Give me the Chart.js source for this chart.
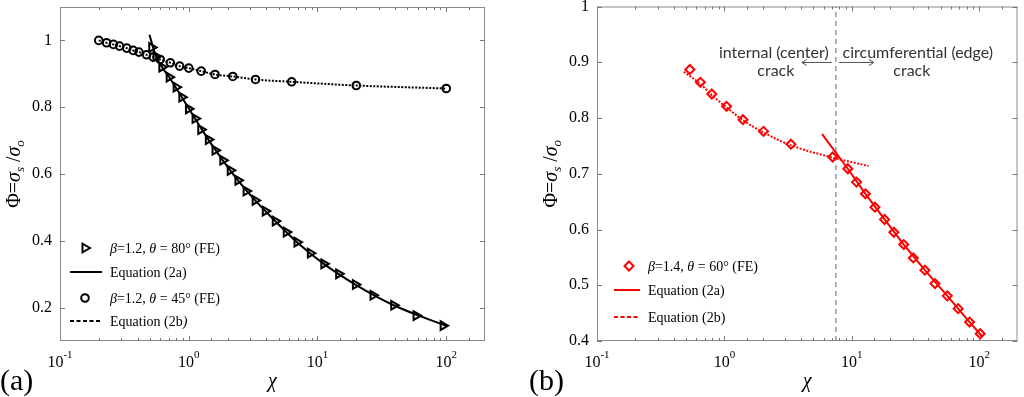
<!DOCTYPE html>
<html>
<head>
<meta charset="utf-8">
<script src="https://cdn.jsdelivr.net/npm/chart.js@4.4.1/dist/chart.umd.min.js"></script>
<style>
  html, body { margin: 0; padding: 0; background: #fff; }
  #wrap { position: relative; width: 1024px; height: 397px; overflow: hidden; }
  canvas { position: absolute; top: 0; }
</style>
</head>
<body>
<div id="wrap">
  <canvas id="chartA" width="512" height="397" style="left:0"></canvas>
  <canvas id="chartB" width="512" height="397" style="left:512px"></canvas>
</div>
<script>
// ---- panel (a) ----
const triX = [0.516, 0.557, 0.618, 0.705, 0.798, 0.884, 0.995, 1.12, 1.24, 1.42, 1.60, 1.84, 2.10, 2.41,
              2.79, 3.28, 3.93, 4.70, 5.72, 6.93, 8.8, 11.2, 14.6, 19.7, 27.0, 39.1, 58.3, 94.6];
const triY = [0.979, 0.952, 0.920, 0.890, 0.860, 0.830, 0.795, 0.766, 0.733, 0.703, 0.671, 0.641, 0.611, 0.581,
              0.549, 0.521, 0.489, 0.459, 0.426, 0.396, 0.363, 0.331, 0.301, 0.269, 0.237, 0.207, 0.176, 0.146];
const circX = [0.2, 0.23, 0.26, 0.29, 0.33, 0.37, 0.41, 0.47, 0.53, 0.6, 0.72, 0.85, 1.0, 1.25, 1.6, 2.2, 3.3, 6.3, 20, 100];
const circY = [1.0, 0.993, 0.988, 0.983, 0.977, 0.970, 0.965, 0.957, 0.950, 0.943, 0.933, 0.923, 0.917, 0.908,
               0.898, 0.892, 0.883, 0.876, 0.865, 0.856];
const eqA_X = [0.495, 0.557, 0.705, 0.884, 1.12, 1.42, 1.84, 2.41, 3.28, 4.70, 6.93, 11.2, 19.7, 39.1, 100];
const eqA_Y = [1.017, 0.952, 0.890, 0.830, 0.766, 0.703, 0.641, 0.581, 0.521, 0.459, 0.396, 0.331, 0.269, 0.207, 0.145];
const yTicksA = [0.2, 0.4, 0.6, 0.8, 1];

// ---- panel (b) ----
const diaX = [0.536, 0.648, 0.797, 1.04, 1.40, 2.03, 3.33, 7.08, 9.31, 10.9, 12.8, 15.2, 18.1, 21.4,
              25.6, 30.4, 37.5, 45.0, 56.2, 68.4, 84.1, 102];
const diaY = [0.887, 0.864, 0.843, 0.821, 0.797, 0.776, 0.753, 0.730, 0.709, 0.685, 0.664, 0.640, 0.618, 0.595,
              0.573, 0.549, 0.527, 0.503, 0.481, 0.458, 0.434, 0.413];
const eqB2b_X = [0.48, 0.648, 0.797, 1.04, 1.40, 2.03, 3.33, 7.08, 13.5];
const eqB2b_Y = [0.883, 0.861, 0.841, 0.819, 0.796, 0.774, 0.751, 0.729, 0.714];
const eqB2a_X = [5.85, 9.31, 12.8, 18.1, 25.6, 37.5, 56.2, 84.1, 105];
const eqB2a_Y = [0.771, 0.709, 0.664, 0.618, 0.573, 0.527, 0.481, 0.434, 0.409];
const dividerX = 7.5;
const yTicksB = [0.4, 0.5, 0.6, 0.7, 0.8, 0.9, 1];

const xTickValues = [0.1, 1, 10, 100];
const xTickExps = ['-1', '0', '1', '2'];

const SERIF = '"Liberation Serif", "Times New Roman", serif';
const pts = (xs, ys) => xs.map((x, i) => ({ x: x, y: ys[i] }));
const fnt = (size, italic) => (italic ? 'italic ' : '') + size + 'px ' + SERIF;

// draw a run of text pieces: [text, italic, size, dy]
function drawRich(ctx, parts, x, y, align) {
  let w = 0;
  parts.forEach(p => { ctx.font = fnt(p[2], p[1]); w += ctx.measureText(p[0]).width; });
  let cx = align === 'center' ? x - w / 2 : x;
  ctx.textAlign = 'left';
  ctx.textBaseline = 'alphabetic';
  parts.forEach(p => {
    ctx.font = fnt(p[2], p[1]);
    ctx.fillText(p[0], cx, y + (p[3] || 0));
    cx += ctx.measureText(p[0]).width;
  });
}

function drawMarker(ctx, kind, x, y, color) {
  ctx.save();
  ctx.strokeStyle = color;
  ctx.lineWidth = 2;
  ctx.beginPath();
  if (kind === 'triangle') {
    const r = 5;
    ctx.moveTo(x + r, y);
    ctx.lineTo(x - r / 2, y - r * 0.866);
    ctx.lineTo(x - r / 2, y + r * 0.866);
    ctx.closePath();
  } else if (kind === 'circle') {
    ctx.arc(x, y, 3.8, 0, Math.PI * 2);
  } else {
    const r = 4.5;
    ctx.moveTo(x, y - r); ctx.lineTo(x + r, y); ctx.lineTo(x, y + r); ctx.lineTo(x - r, y);
    ctx.closePath();
  }
  ctx.stroke();
  ctx.restore();
}

function arrow(ctx, x0, x1, y) {
  const d = x1 > x0 ? 1 : -1;
  ctx.beginPath();
  ctx.moveTo(x0, y); ctx.lineTo(x1, y);
  ctx.moveTo(x1 - d * 5, y - 3); ctx.lineTo(x1, y); ctx.lineTo(x1 - d * 5, y + 3);
  ctx.stroke();
}

const deco = {
  id: 'deco',
  afterDraw(chart, args, o) {
    const ctx = chart.ctx;
    const a = chart.chartArea;
    const xs = chart.scales.x, ys = chart.scales.y;
    ctx.save();
    // frame
    ctx.strokeStyle = '#8a8a8a';
    ctx.lineWidth = 1;
    ctx.strokeRect(a.left + 0.5, a.top + 0.5, a.right - a.left - 1, a.bottom - a.top - 1);
    // inward ticks
    ctx.strokeStyle = '#777';
    ctx.beginPath();
    xs.ticks.forEach(t => {
      const lg = Math.log10(t.value);
      const major = Math.abs(lg - Math.round(lg)) < 1e-6;
      const len = major ? 5 : 3;
      const px = Math.round(xs.getPixelForValue(t.value)) + 0.5;
      if (px <= a.left + 1 || px >= a.right - 1) return;
      ctx.moveTo(px, a.bottom); ctx.lineTo(px, a.bottom - len);
      ctx.moveTo(px, a.top); ctx.lineTo(px, a.top + len);
    });
    ys.ticks.forEach(t => {
      const py = Math.round(ys.getPixelForValue(t.value)) + 0.5;
      ctx.moveTo(a.left, py); ctx.lineTo(a.left + 5, py);
      ctx.moveTo(a.right, py); ctx.lineTo(a.right - 5, py);
    });
    ctx.stroke();
    // x tick labels 10^n
    ctx.fillStyle = '#000';
    xTickValues.forEach((v, i) => {
      const px = xs.getPixelForValue(v);
      drawRich(ctx, [['10', false, 16, 0], [xTickExps[i], false, 11, -9]], px, a.bottom + 26, 'center');
    });
    // y title
    ctx.save();
    ctx.translate(o.ytitleX, (a.top + a.bottom) / 2);
    ctx.rotate(-Math.PI / 2);
    drawRich(ctx, [['Φ=', false, 20, 0], ['σ', true, 20, 0], ['s', true, 13, 4],
                   [' /', false, 20, 0], ['σ', true, 20, 0], ['o', true, 13, 4]], 0, 7, 'center');
    ctx.restore();
    // panel label
    drawRich(ctx, [[o.panel, false, 30, 0]], o.panelX, 390, 'left');
    // legend
    const L = o.legendX;
    o.legend.forEach(item => {
      const y = a.bottom - item.dy;
      if (item.marker) drawMarker(ctx, item.marker, a.left + L.marker, y, o.color);
      if (item.line) {
        ctx.save();
        ctx.strokeStyle = o.color;
        ctx.lineWidth = 2;
        if (item.line === 'dash') ctx.setLineDash([4, 2.5]);
        ctx.beginPath();
        ctx.moveTo(a.left + L.l0, y); ctx.lineTo(a.left + L.l1, y);
        ctx.stroke();
        ctx.restore();
      }
      ctx.fillStyle = '#000';
      drawRich(ctx, item.text, a.left + L.text, y + 5, 'left');
    });
    // crack annotation
    if (o.annot) {
      const dx = xs.getPixelForValue(dividerX);
      ctx.fillStyle = '#333';
      ctx.strokeStyle = '#555';
      ctx.lineWidth = 1;
      ctx.font = '16px Lato, "Open Sans", sans-serif';
      ctx.textAlign = 'center';
      ctx.textBaseline = 'middle';
      ctx.fillText('internal (center)', dx - 62, a.top + 46);
      ctx.fillText('crack', dx - 60, a.top + 64);
      ctx.fillText('circumferential (edge)', dx + 82, a.top + 46);
      ctx.fillText('crack', dx + 76, a.top + 64);
      arrow(ctx, dx - 4, dx - 34, a.top + 56);
      arrow(ctx, dx + 3, dx + 38, a.top + 56);
    }
    ctx.restore();
  }
};

const fe = (b, t) => [['β', true, 14], ['=' + b + ', ', false, 14], ['θ', true, 14], [' = ' + t + '° (FE)', false, 14]];

function baseScales(ymin, ymax, yTicks, yWidth) {
  return {
    x: {
      type: 'logarithmic', min: 0.1, max: 200,
      grid: { display: false, drawTicks: false },
      border: { display: false },
      ticks: { display: false, autoSkip: false },
      title: { display: true, text: 'χ', color: '#000', font: { family: SERIF, size: 20, style: 'italic' },
               padding: { top: 0, bottom: 3 } },
      afterFit: s => { s.height = 56; s.paddingLeft = 0; s.paddingRight = 0; }
    },
    y: {
      type: 'linear', min: ymin, max: ymax,
      grid: { display: false, drawTicks: false },
      border: { display: false },
      ticks: { color: '#000', font: { family: SERIF, size: 16 }, padding: 8, callback: v => String(v) },
      afterBuildTicks: s => { s.ticks = yTicks.map(v => ({ value: v })); },
      afterFit: s => { s.width = yWidth; s.paddingTop = 0; s.paddingBottom = 0; }
    }
  };
}

new Chart(document.getElementById('chartA'), {
  type: 'scatter',
  data: {
    datasets: [
      { label: 'β=1.2, θ = 80° (FE)', data: pts(triX, triY), pointStyle: 'triangle', rotation: 90,
        pointRadius: 5, pointBorderWidth: 2, pointBorderColor: '#000', pointBackgroundColor: 'rgba(0,0,0,0)' },
      { label: 'β=1.2, θ = 45° (FE)', data: pts(circX, circY), pointStyle: 'circle',
        pointRadius: 3.8, pointBorderWidth: 2, pointBorderColor: '#000', pointBackgroundColor: 'rgba(0,0,0,0)' },
      { label: 'Equation (2a)', data: pts(eqA_X, eqA_Y), showLine: true, pointRadius: 0,
        borderColor: '#000', borderWidth: 2, cubicInterpolationMode: 'monotone' },
      { label: 'Equation (2b)', data: pts(circX, circY), showLine: true, pointRadius: 0,
        borderColor: '#000', borderWidth: 2, borderDash: [2, 1.5], cubicInterpolationMode: 'monotone' }
    ]
  },
  options: {
    responsive: false,
    animation: false,
    layout: { padding: { top: 6, right: 27, left: 0, bottom: 0 } },
    plugins: {
      legend: { display: false },
      tooltip: { enabled: false },
      deco: {
        panel: '(a)', panelX: 0, ytitleX: 13, color: '#000',
        legendX: { marker: 25, l0: 10, l1: 42, text: 50 },
        legend: [
          { dy: 93, marker: 'triangle', text: fe('1.2', '80') },
          { dy: 69, line: 'solid', text: [['Equation (2a)', false, 14]] },
          { dy: 43, marker: 'circle', text: fe('1.2', '45') },
          { dy: 20, line: 'dash', text: [['Equation (2b', false, 14], [')', true, 14]] }
        ]
      }
    },
    scales: baseScales(0.1, 1.1, yTicksA, 60)
  },
  plugins: [deco]
});

new Chart(document.getElementById('chartB'), {
  type: 'scatter',
  data: {
    datasets: [
      { label: 'β=1.4, θ = 60° (FE)', data: pts(diaX, diaY), pointStyle: 'rectRot',
        pointRadius: 4.5, pointBorderWidth: 2, pointBorderColor: '#ff0000', pointBackgroundColor: 'rgba(0,0,0,0)' },
      { label: 'Equation (2a)', data: pts(eqB2a_X, eqB2a_Y), showLine: true, pointRadius: 0,
        borderColor: '#ff0000', borderWidth: 2 },
      { label: 'Equation (2b)', data: pts(eqB2b_X, eqB2b_Y), showLine: true, pointRadius: 0,
        borderColor: '#ff0000', borderWidth: 2, borderDash: [2, 1.5], cubicInterpolationMode: 'monotone' },
      { label: 'divider', data: [{ x: dividerX, y: 0.4 }, { x: dividerX, y: 1 }], showLine: true, pointRadius: 0,
        borderColor: '#808080', borderWidth: 1.2, borderDash: [5, 4] }
    ]
  },
  options: {
    responsive: false,
    animation: false,
    layout: { padding: { top: 6, right: 1, left: 0, bottom: 0 } },
    plugins: {
      legend: { display: false },
      tooltip: { enabled: false },
      deco: {
        panel: '(b)', panelX: 17, ytitleX: 38, color: '#ff0000',
        legendX: { marker: 32, l0: 17, l1: 43, text: 51 },
        legend: [
          { dy: 75, marker: 'rectRot', text: fe('1.4', '60') },
          { dy: 51, line: 'solid', text: [['Equation (2a)', false, 14]] },
          { dy: 24, line: 'dash', text: [['Equation (2b)', false, 14]] }
        ],
        annot: true
      }
    },
    scales: baseScales(0.4, 1.0, yTicksB, 85)
  },
  plugins: [deco]
});
</script>
</body>
</html>
